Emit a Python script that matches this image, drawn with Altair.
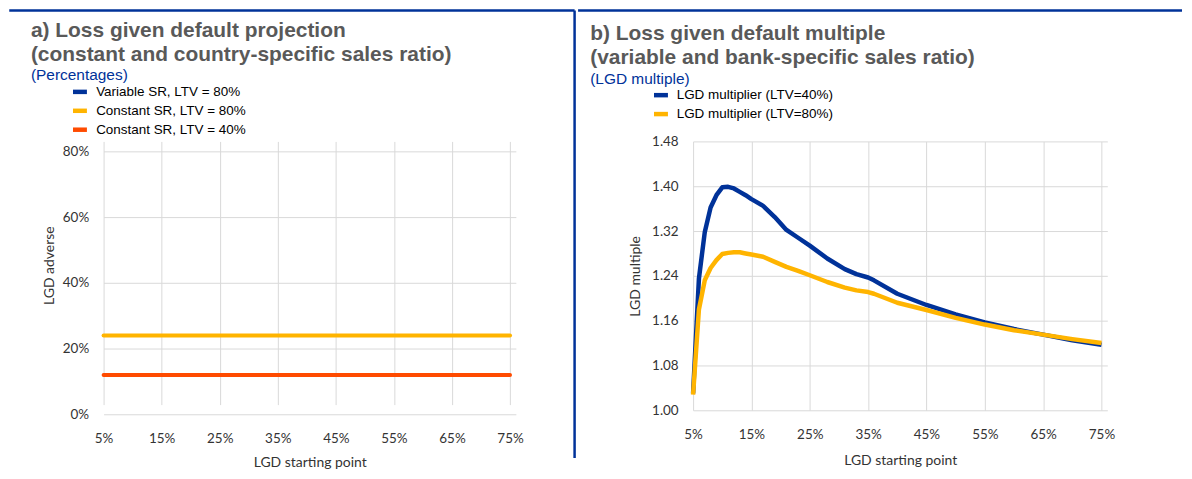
import altair as alt
import pandas as pd

# ---------------- Panel a data ----------------
a_x = [5, 15, 25, 35, 45, 55, 65, 75]
a_const80 = [24, 24, 24, 24, 24, 24, 24, 24]
a_const40 = [12, 12, 12, 12, 12, 12, 12, 12]
a_series = ["Variable SR, LTV = 80%", "Constant SR, LTV = 80%", "Constant SR, LTV = 40%"]
a_colors = ["#003299", "#FFB400", "#FF4B00"]
a_xticks = [5, 15, 25, 35, 45, 55, 65, 75]
a_yticks = [0, 20, 40, 60, 80]

# ---------------- Panel b data ----------------
b_x = [5, 6, 7, 8, 9, 10, 11, 12, 13, 14, 15, 17, 19, 21, 23, 25, 28, 31, 33, 35,
       36, 40, 45, 50, 55, 60, 65, 70, 75]
b_ltv40 = [1.030, 1.235, 1.318, 1.362, 1.384, 1.398, 1.399, 1.396, 1.390, 1.384,
           1.377, 1.365, 1.345, 1.322, 1.308, 1.294, 1.271, 1.252, 1.243, 1.237,
           1.232, 1.208, 1.188, 1.171, 1.157, 1.145, 1.135, 1.125, 1.117]
b_ltv80 = [1.028, 1.180, 1.232, 1.254, 1.268, 1.279, 1.281, 1.282, 1.282, 1.280,
           1.278, 1.274, 1.265, 1.256, 1.249, 1.241, 1.229, 1.219, 1.214, 1.211,
           1.208, 1.192, 1.179, 1.165, 1.153, 1.143, 1.135, 1.127, 1.120]
b_series = ["LGD multiplier (LTV=40%)", "LGD multiplier (LTV=80%)"]
b_colors = ["#003299", "#FFB400"]
b_yticks = [1.00, 1.08, 1.16, 1.24, 1.32, 1.40, 1.48]

a_title = ["a) Loss given default projection", "(constant and country-specific sales ratio)"]
a_sub = "(Percentages)"
b_title = ["b) Loss given default multiple", "(variable and bank-specific sales ratio)"]
b_sub = "(LGD multiple)"

TITLE_FONT = "Liberation Sans"
AX_FONT = "Lato"
GRID = "#d9d9d9"
ECB_BLUE = "#003299"
TXT = "#333333"

df_a = pd.DataFrame({
    "x": a_x + a_x,
    "y": a_const80 + a_const40,
    "s": [a_series[1]] * len(a_x) + [a_series[2]] * len(a_x),
})
df_b = pd.DataFrame({
    "x": b_x + b_x,
    "y": b_ltv40 + b_ltv80,
    "s": [b_series[0]] * len(b_x) + [b_series[1]] * len(b_x),
})


def text_layer(txt, x, y, size, weight, color):
    return alt.Chart(pd.DataFrame({"t": [txt]})).mark_text(
        align="left", baseline="alphabetic", fontSize=size, fontWeight=weight,
        color=color, font=TITLE_FONT
    ).encode(x=alt.value(x), y=alt.value(y), text="t:N")


def hrule(x1, x2, y):
    return alt.Chart(pd.DataFrame({"k": [0]})).mark_rule(
        color=ECB_BLUE, strokeWidth=2.5
    ).encode(x=alt.value(x1), x2=alt.value(x2), y=alt.value(y))


def vrule(x, y1, y2):
    return alt.Chart(pd.DataFrame({"k": [0]})).mark_rule(
        color=ECB_BLUE, strokeWidth=2.5
    ).encode(x=alt.value(x), y=alt.value(y1), y2=alt.value(y2))


def x_axis(title_y):
    return alt.Axis(
        values=a_xticks, labelExpr="datum.value + '%'", grid=True, gridColor=GRID,
        gridWidth=1, ticks=False, tickSize=0, domain=False, labelFont=AX_FONT,
        labelFontSize=13.5, labelColor=TXT, labelPadding=17, labelFlush=False,
        title="LGD starting point", titleFont=AX_FONT, titleFontSize=14,
        titleFontWeight="normal", titleColor=TXT, titleY=title_y,
        titleBaseline="middle",
    )


def legend(lx, ly, label_off):
    return alt.Legend(
        title=None, orient="none", legendX=lx, legendY=ly, direction="vertical",
        symbolType="stroke", symbolSize=196, symbolStrokeWidth=4.5,
        labelFont=TITLE_FONT, labelFontSize=13.5, labelColor="#000000",
        labelOffset=label_off, rowPadding=0, padding=0,
    )


# ---------------- Panel a ----------------
# Both panels share the same origin row; panel a's plot starts 10px lower
A_H = 274.3
A_TOP = 10
RULE_Y = -131.45
lines_a = alt.Chart(df_a).mark_line(strokeWidth=4, strokeCap="round").encode(
    x=alt.X("x:Q", scale=alt.Scale(domain=[5, 76], nice=False, zero=False), axis=x_axis(47.7)),
    y=alt.Y("y:Q", scale=alt.Scale(domain=[0, 80], nice=False, range=[A_H, A_TOP]),
            axis=alt.Axis(values=a_yticks, labelExpr="datum.value + '%'", grid=True,
                          gridColor=GRID, gridWidth=1, ticks=False, tickSize=0,
                          domain=False, labelFont=AX_FONT, labelFontSize=13.5,
                          labelColor=TXT, labelPadding=15, title="LGD adverse",
                          titleFont=AX_FONT, titleFontSize=14, titleFontWeight="normal",
                          titleColor=TXT, titleX=-54.5, titleY=124.3,
                          titleBaseline="middle")),
    color=alt.Color("s:N", scale=alt.Scale(domain=a_series, range=a_colors),
                    legend=legend(-33.25, -59.25, 6.75)),
)

panel_a = alt.layer(
    lines_a,
    hrule(-94.75, 473, RULE_Y),
    vrule(473, RULE_Y, 318),
    text_layer(a_title[0], -73, -104.7, 21, "bold", "#595959"),
    text_layer(a_title[1], -73, -80.7, 21, "bold", "#595959"),
    text_layer(a_sub, -73, -61.4, 15.5, "normal", ECB_BLUE),
).properties(width=414, height=A_H)

# ---------------- Panel b ----------------
lines_b = alt.Chart(df_b).mark_line(strokeWidth=4.5, strokeJoin="round").encode(
    x=alt.X("x:Q", scale=alt.Scale(domain=[5, 76], nice=False, zero=False), axis=x_axis(50.3)),
    y=alt.Y("y:Q", scale=alt.Scale(domain=[1.0, 1.48], nice=False, zero=False),
            axis=alt.Axis(values=b_yticks, format=".2f", grid=True, gridColor=GRID,
                          gridWidth=1, ticks=False, tickSize=0, domain=False,
                          labelFont=AX_FONT, labelFontSize=13.5, labelColor=TXT,
                          labelPadding=15, title="LGD multiple", titleFont=AX_FONT,
                          titleFontSize=14, titleFontWeight="normal", titleColor=TXT,
                          titleX=-57.5, titleY=135, titleBaseline="middle")),
    color=alt.Color("s:N", scale=alt.Scale(domain=b_series, range=b_colors),
                    legend=legend(-41.75, -55.95, 6.25)),
)

panel_b = alt.layer(
    lines_b,
    hrule(-115.5, 491, RULE_Y),
    text_layer(b_title[0], -103.3, -101.4, 21, "bold", "#595959"),
    text_layer(b_title[1], -103.3, -77.4, 21, "bold", "#595959"),
    text_layer(b_sub, -103.3, -58, 15.5, "normal", ECB_BLUE),
).properties(width=416, height=270)

chart = alt.hconcat(panel_a, panel_b, spacing=0).resolve_scale(
    color="independent", x="independent", y="independent"
).resolve_legend(color="independent").properties(
    padding=0, background="white"
).configure_view(strokeWidth=0)

chart.save("out.html", embed_options={"renderer": "svg", "actions": False})
